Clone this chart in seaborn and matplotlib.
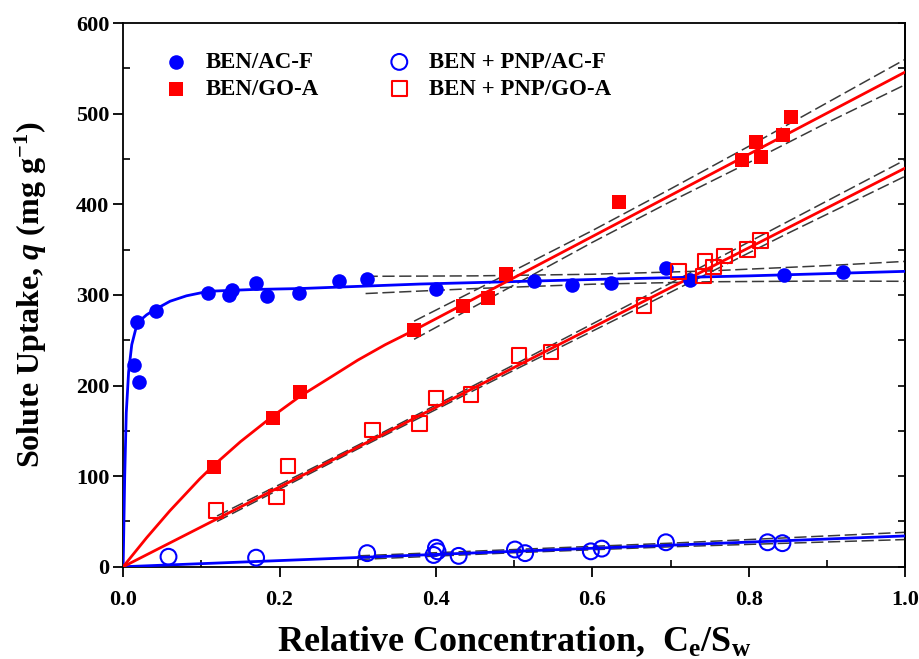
import matplotlib
matplotlib.use("Agg")
import matplotlib.pyplot as plt
from matplotlib.ticker import MultipleLocator
import seaborn as sns

# ---- measured points ----
acf_x = [0.014, 0.020, 0.018, 0.042, 0.108, 0.135, 0.139, 0.170, 0.184, 0.225,
         0.276, 0.312, 0.400, 0.525, 0.574, 0.624, 0.694, 0.725, 0.845, 0.921]
acf_y = [223, 204, 270, 282, 302, 300, 305, 313, 299, 302,
         315, 318, 307, 315, 311, 313, 330, 316, 322, 325]

goa_x = [0.116, 0.191, 0.226, 0.372, 0.435, 0.466, 0.490, 0.634, 0.791, 0.809, 0.815, 0.844, 0.854]
goa_y = [110, 164, 193, 261, 288, 297, 323, 403, 449, 469, 452, 477, 496]

pnp_acf_x = [0.058, 0.170, 0.312, 0.397, 0.400, 0.402, 0.429, 0.501, 0.514, 0.598, 0.612, 0.694, 0.824, 0.843]
pnp_acf_y = [11, 10, 15, 13, 21, 17, 12, 19, 15, 17, 20, 27, 27, 26]

pnp_goa_x = [0.119, 0.196, 0.211, 0.319, 0.379, 0.400, 0.445, 0.506, 0.547,
             0.666, 0.710, 0.742, 0.744, 0.755, 0.769, 0.798, 0.815]
pnp_goa_y = [62, 77, 111, 151, 158, 186, 190, 233, 237,
             288, 326, 321, 337, 331, 343, 350, 360]

# ---- fitted curves ----
acf_fit_x = [0, 0.002, 0.004, 0.007, 0.011, 0.016, 0.022, 0.030, 0.039, 0.060, 0.081,
             0.109, 0.167, 0.226, 0.380, 0.600, 0.800, 1.0]
acf_fit_y = [0, 100, 170, 215, 245, 262, 272, 278, 283, 293, 299,
             304, 306, 307, 312, 317, 321, 326]

goa_fit_x = [0, 0.03, 0.06, 0.098, 0.116, 0.15, 0.191, 0.226, 0.265, 0.30, 0.335, 0.372, 1.0]
goa_fit_y = [0, 32, 62, 97, 112, 138, 166, 188, 209, 228, 245, 261, 546]

pnp_acf_fit_x = [0, 1.0]
pnp_acf_fit_y = [0, 34]

pnp_goa_fit_x = [0, 1.0]
pnp_goa_fit_y = [0, 440]

# ---- 95% bands (dashed) ----
acf_band_x = [0.31, 0.45, 0.60, 0.75, 0.90, 1.0]
acf_band_hi = [320.5, 321, 322.8, 326.5, 332.3, 337]
acf_band_lo = [301.5, 307, 311.8, 314.5, 315.3, 315]

goa_band_x = [0.372, 0.5, 0.6, 0.7, 0.8, 0.9, 1.0]
goa_band_hi = [271, 327, 371, 417, 464, 512, 560]
goa_band_lo = [251, 311, 358, 403, 446, 490, 532]

pnp_goa_band_x = [0.12, 0.3, 0.5, 0.7, 0.85, 1.0]
pnp_goa_band_hi = [56, 134, 223, 313, 381, 449]
pnp_goa_band_lo = [50, 130, 217, 303, 368, 431]

pnp_acf_band_x = [0.3, 0.5, 0.7, 1.0]
pnp_acf_band_hi = [12, 19, 26, 38]
pnp_acf_band_lo = [8, 15.5, 22, 30]

BLUE, RED, GREY = "#0000FF", "#FF0000", "#3a3a3a"

sns.set_theme(style="ticks")
plt.rcParams.update({
    "font.family": ["Liberation Serif", "DejaVu Serif"],
    "font.weight": "bold",
    "mathtext.fontset": "custom",
    "mathtext.rm": "Liberation Serif:bold",
    "mathtext.it": "Liberation Serif:bold:italic",
    "mathtext.bf": "Liberation Serif:bold",
    "axes.linewidth": 1.3,
    "text.color": "black",
    "axes.labelcolor": "black",
    "axes.edgecolor": "black",
    "xtick.color": "black",
    "ytick.color": "black",
})

fig = plt.figure(figsize=(9.19, 6.59), dpi=100)
ax = fig.add_axes([0.134, 0.140, 0.851, 0.825])

# dashed bands
for bx, hi, lo in [(acf_band_x, acf_band_hi, acf_band_lo),
                   (goa_band_x, goa_band_hi, goa_band_lo),
                   (pnp_goa_band_x, pnp_goa_band_hi, pnp_goa_band_lo),
                   (pnp_acf_band_x, pnp_acf_band_hi, pnp_acf_band_lo)]:
    for by in (hi, lo):
        sns.lineplot(x=bx, y=by, ax=ax, estimator=None, sort=False, color=GREY,
                     lw=1.1, linestyle=(0, (8, 3)), zorder=2)

# fitted curves
for fx, fy, c in [(acf_fit_x, acf_fit_y, BLUE), (goa_fit_x, goa_fit_y, RED),
                  (pnp_acf_fit_x, pnp_acf_fit_y, BLUE), (pnp_goa_fit_x, pnp_goa_fit_y, RED)]:
    sns.lineplot(x=fx, y=fy, ax=ax, estimator=None, sort=False, color=c, lw=2.0, zorder=3)

# data
sns.scatterplot(x=acf_x, y=acf_y, ax=ax, marker="o", s=110, color=BLUE,
                edgecolor=BLUE, linewidth=0, label="BEN/AC-F", zorder=4)
sns.scatterplot(x=goa_x, y=goa_y, ax=ax, marker="s", s=95, color=RED,
                edgecolor=RED, linewidth=0, label="BEN/GO-A", zorder=4)
sns.scatterplot(x=pnp_acf_x, y=pnp_acf_y, ax=ax, marker="o", s=130, facecolors="none",
                edgecolors=BLUE, linewidth=1.5, label="BEN + PNP/AC-F", zorder=4)
sns.scatterplot(x=pnp_goa_x, y=pnp_goa_y, ax=ax, marker="s", s=110, facecolors="none",
                edgecolors=RED, linewidth=1.5, label="BEN + PNP/GO-A", zorder=4)

ax.set_xlim(0, 1.0)
ax.set_ylim(0, 600)
ax.xaxis.set_major_locator(MultipleLocator(0.2))
ax.xaxis.set_minor_locator(MultipleLocator(0.1))
ax.yaxis.set_major_locator(MultipleLocator(100))
ax.yaxis.set_minor_locator(MultipleLocator(50))
ax.xaxis.set_major_formatter(plt.FuncFormatter(lambda v, p: f"{v:.1f}"))
ax.tick_params(which="major", direction="out", length=7, width=1.3, labelsize=16,
               top=False, right=False)
ax.tick_params(axis="x", which="major", pad=10)
ax.tick_params(axis="y", which="major", pad=3)
ax.tick_params(which="minor", direction="in", length=5, width=1.2, top=False, right=False)
for lab in ax.get_xticklabels() + ax.get_yticklabels():
    lab.set_fontweight("bold")

sec = ax.secondary_yaxis("right")
sec.yaxis.set_major_locator(MultipleLocator(50))
sec.tick_params(direction="in", length=5, width=1.2, labelright=False)

ax.set_xlabel("Relative Concentration,  C$_\\mathrm{e}$/S$_\\mathrm{w}$",
              fontsize=26, fontweight="bold", labelpad=10)
ax.set_ylabel("Solute Uptake, $q$ (mg g$^{\\mathrm{-1}}$)",
              fontsize=23, fontweight="bold", labelpad=19)

ax.legend(loc="upper left", bbox_to_anchor=(0.053, 0.947), ncol=2, frameon=False,
          prop={"weight": "bold", "size": 16.5}, handlelength=1.0, handletextpad=0.8,
          columnspacing=3.0, labelspacing=0.25, borderaxespad=0, borderpad=0)

fig.savefig("out.png", dpi=100)
